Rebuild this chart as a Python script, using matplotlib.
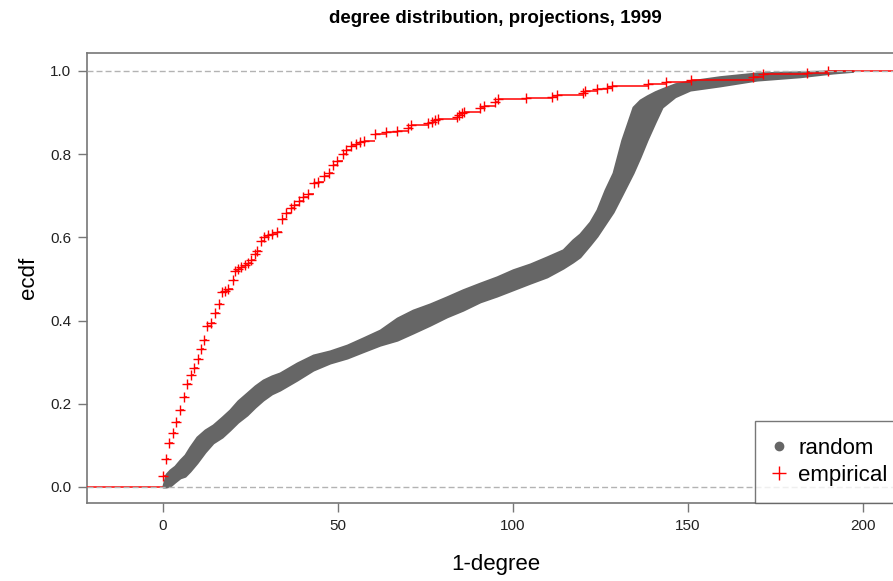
import numpy as np
import matplotlib
matplotlib.use("Agg")
import matplotlib.pyplot as plt
from matplotlib.lines import Line2D

# empirical ecdf: one point per distinct 1-degree value
emp_x = [0.0, 0.9, 1.8, 2.9, 3.7, 4.9, 5.9, 6.9, 8.0, 8.9, 9.9, 10.9, 11.7,
         12.6, 13.6, 14.9, 15.9, 16.8, 17.6, 18.7, 19.9, 20.6, 21.5, 22.4,
         23.4, 24.4, 25.2, 26.3, 26.9, 27.9, 28.9, 30.1, 31.1, 32.6, 34.1,
         35.1, 36.5, 37.5, 38.8, 40.1, 41.3, 43.2, 44.3, 46.0, 47.3, 48.7,
         49.8, 51.3, 52.2, 53.7, 55.1, 56.3, 57.4, 60.7, 63.8, 66.8, 70.1,
         70.9, 75.8, 76.8, 77.7, 78.7, 83.9, 84.7, 85.4, 86.1, 90.6, 91.6,
         94.9, 95.8, 103.8, 111.1, 112.5, 119.9, 120.6, 123.9, 126.8, 128.2,
         138.7, 143.7, 150.9, 168.7, 171.5, 183.9, 190.1]
emp_y = [0.026, 0.067, 0.106, 0.129, 0.155, 0.185, 0.216, 0.247, 0.268,
         0.287, 0.308, 0.332, 0.353, 0.387, 0.394, 0.418, 0.440, 0.468,
         0.471, 0.475, 0.498, 0.520, 0.523, 0.528, 0.534, 0.538, 0.545,
         0.560, 0.568, 0.590, 0.601, 0.606, 0.609, 0.612, 0.643, 0.659,
         0.670, 0.678, 0.688, 0.698, 0.703, 0.730, 0.734, 0.748, 0.754,
         0.774, 0.783, 0.800, 0.809, 0.819, 0.824, 0.828, 0.832, 0.848,
         0.854, 0.856, 0.863, 0.871, 0.874, 0.878, 0.882, 0.885, 0.890,
         0.894, 0.899, 0.901, 0.911, 0.916, 0.926, 0.932, 0.935, 0.938,
         0.942, 0.946, 0.951, 0.957, 0.960, 0.964, 0.969, 0.974, 0.978,
         0.986, 0.993, 0.996, 1.0]

# random projections: envelope of the pooled ecdf points
rand_x = [0.0, 0.9, 2.0, 3.4, 4.9, 6.3, 7.7, 9.7, 12.0, 14.3, 16.9, 19.1,
          21.4, 24.0, 26.3, 28.6, 31.1, 33.4, 38.3, 42.9, 47.7, 52.6, 57.1,
          62.0, 66.9, 71.4, 76.3, 81.1, 85.7, 90.6, 95.4, 100.0, 104.9,
          109.7, 114.3, 117.1, 119.1, 122.0, 124.0, 126.3, 128.6, 131.1,
          134.3, 136.3, 138.3, 140.6, 142.6, 146.3, 150.6, 159.1, 169.7,
          182.0, 191.4, 197.1]
rand_hi = [0.002, 0.031, 0.041, 0.050, 0.065, 0.077, 0.096, 0.120, 0.137,
           0.149, 0.168, 0.185, 0.207, 0.226, 0.243, 0.257, 0.267, 0.274,
           0.298, 0.317, 0.327, 0.341, 0.358, 0.377, 0.406, 0.425, 0.440,
           0.457, 0.474, 0.490, 0.505, 0.522, 0.536, 0.553, 0.570, 0.594,
           0.608, 0.637, 0.666, 0.714, 0.755, 0.834, 0.913, 0.930, 0.940,
           0.950, 0.957, 0.969, 0.976, 0.986, 0.995, 0.998, 1.0, 1.0]
rand_lo = [0.0, 0.0, 0.002, 0.012, 0.022, 0.026, 0.038, 0.058, 0.084, 0.106,
           0.120, 0.137, 0.156, 0.173, 0.192, 0.209, 0.224, 0.233, 0.257,
           0.281, 0.298, 0.310, 0.325, 0.341, 0.353, 0.370, 0.389, 0.409,
           0.425, 0.445, 0.459, 0.474, 0.490, 0.505, 0.526, 0.541, 0.553,
           0.582, 0.603, 0.632, 0.661, 0.702, 0.755, 0.793, 0.834, 0.877,
           0.913, 0.938, 0.954, 0.964, 0.978, 0.986, 0.995, 0.999]

x_ticks = [0, 50, 100, 150, 200]
y_ticks = [0.0, 0.2, 0.4, 0.6, 0.8, 1.0]

plt.rcParams["font.family"] = ["Liberation Sans", "DejaVu Sans"]

gray = "#666666"
red = "#FF0000"
axis_col = "#777777"

fig = plt.figure(figsize=(8.93, 5.81), dpi=100)
ax = fig.add_axes([87 / 893, 78 / 581, 818 / 893, 450 / 581])
xmin, xmax = -21.7, 212.0
ax.set_xlim(xmin, xmax)
ax.set_ylim(-0.0385, 1.043)

# random band
ax.fill_between(rand_x, rand_lo, rand_hi, color=gray, linewidth=1.5,
                edgecolor=gray, zorder=2)

# empirical step function, horizontal pieces only
ex = np.array(emp_x)
ey = np.array(emp_y)
ax.hlines(ey[:-1], ex[:-1], ex[1:], color=red, linewidth=1.1, zorder=3)
ax.hlines(0, xmin, ex[0], color=red, linewidth=1.1, zorder=3)
ax.hlines(1, ex[-1], xmax, color=red, linewidth=1.1, zorder=3)
ax.plot(ex, ey, linestyle="none", marker="+", markersize=7,
        markeredgewidth=1.0, color=red, zorder=4)

# reference lines at 0 and 1
for h in (0, 1):
    ax.axhline(h, color="#B3B3B3", linewidth=1.0, dashes=(4.3, 2.2), zorder=5)

ax.set_xticks(x_ticks)
ax.set_xticklabels([str(t) for t in x_ticks])
ax.set_yticks(y_ticks)
ax.set_yticklabels([f"{t:.1f}" for t in y_ticks])
ax.tick_params(length=6.5, width=1.0, color=axis_col, labelsize=11,
               labelcolor="#222222", pad=5)
for sp in ax.spines.values():
    sp.set_color(axis_col)
    sp.set_linewidth(1.2)

ax.set_xlabel("1-degree", fontsize=16, labelpad=15)
ax.set_ylabel("ecdf", fontsize=16, labelpad=8)
fig.text(495 / 893, 0.968, "degree distribution, projections, 1999",
         fontsize=13.5, fontweight="bold", ha="center", va="center")

handles = [
    Line2D([], [], linestyle="none", marker="o", markersize=6, color=gray),
    Line2D([], [], linestyle="none", marker="+", markersize=10,
           markeredgewidth=1.0, color=red),
]
leg = ax.legend(handles, ["random", "empirical"], loc="lower right",
                borderaxespad=0, fontsize=16, frameon=True, fancybox=False,
                handlelength=0.6, handletextpad=0.55, borderpad=0.78,
                labelspacing=0.25)
leg.get_frame().set_edgecolor("#555555")
leg.get_frame().set_linewidth(1.0)

fig.savefig("out.png", dpi=100)
